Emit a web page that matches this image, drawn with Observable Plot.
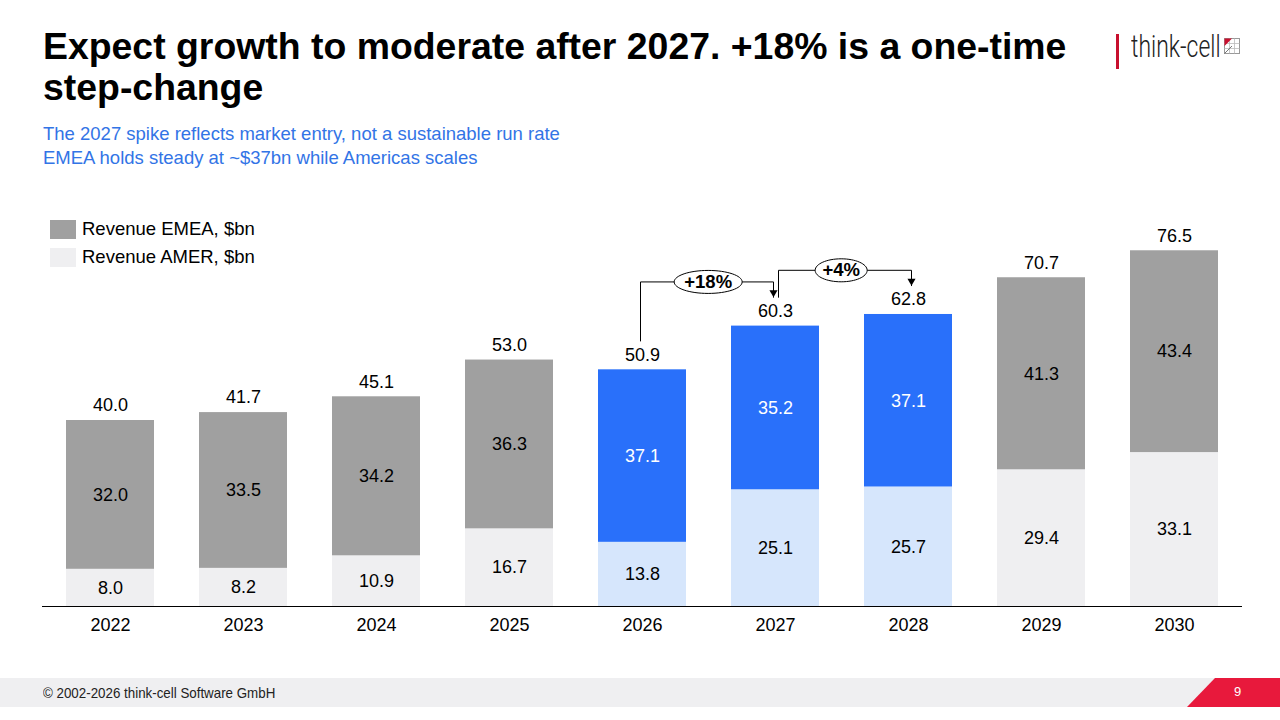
<!DOCTYPE html>
<html>
<head>
<meta charset="utf-8">
<script src="https://cdn.jsdelivr.net/npm/d3@7"></script>
<script src="https://cdn.jsdelivr.net/npm/@observablehq/plot@0.6"></script>
<style>
  html, body { margin: 0; padding: 0; background: #fff; }
  body { width: 1280px; height: 720px; overflow: hidden; font-family: "Liberation Sans", Arial, sans-serif; }
  #page { position: relative; width: 1280px; height: 720px; }
  #title { position: absolute; left: 43px; top: 26px; width: 1080px; font-size: 37.4px; line-height: 41px; font-weight: bold; color: #000; }
  #subtitle { position: absolute; left: 43px; top: 122px; font-size: 18.5px; line-height: 24px; color: #3274e6; }
  #legend { position: absolute; left: 50px; top: 215px; font-size: 18.5px; color: #000; }
  .lg { display: flex; align-items: center; height: 28px; }
  .sw { width: 26px; height: 19px; margin-right: 6px; }
  #chart { position: absolute; left: 0; top: 190px; }
  #logo { position: absolute; left: 1116px; top: 33px; height: 36px; }
  #logobar { position: absolute; left: 0; top: 1px; width: 3px; height: 35px; background: #c8102e; }
  #logotext { position: absolute; left: 15px; top: -5px; font-family: Roboto, sans-serif; font-weight: 300; font-size: 31px; color: #222; transform: scaleX(0.74); transform-origin: left top; white-space: nowrap; }
  #logoicon { position: absolute; left: 108px; top: 5px; }
  #footer { position: absolute; left: 0; top: 678px; width: 1280px; height: 29px; background: #efeff1; }
  #foottext { position: absolute; left: 43px; top: 7px; font-size: 14.5px; color: #222; transform: scaleX(0.92); transform-origin: left top; white-space: nowrap; }
  #footred { position: absolute; left: 0; top: 0; }
  #pagenum { position: absolute; left: 1234px; top: 6px; font-size: 13px; color: #fff; }
</style>
</head>
<body>
<div id="page">
  <div id="title">Expect growth to moderate after 2027. +18% is a one-time step-change</div>
  <div id="subtitle">The 2027 spike reflects market entry, not a sustainable run rate<br>EMEA holds steady at ~$37bn while Americas scales</div>
  <div id="logo">
    <div id="logobar"></div>
    <div id="logotext">think-cell</div>
    <svg id="logoicon" width="18" height="18" viewBox="0 0 18 18">
      <rect x="0.5" y="0.5" width="15" height="15" fill="#fff" stroke="#999" stroke-width="1"/>
      <path d="M5.5 0.5V15.5M10.5 0.5V15.5M0.5 5.5H15.5M0.5 10.5H15.5" stroke="#bbb" stroke-width="0.8"/>
      <path d="M0.5 0.5H8L0.5 8Z" fill="#c8102e"/>
      <path d="M0.5 15.5L8 8" stroke="#777" stroke-width="1"/>
    </svg>
  </div>
  <div id="legend"></div>
  <div id="chart"></div>
  <div id="footer">
    <svg id="footred" width="1280" height="29"><polygon points="1187,29 1215,0 1280,0 1280,29" fill="#e8193c"/></svg>
    <div id="foottext">© 2002-2026 think-cell Software GmbH</div>
    <div id="pagenum">9</div>
  </div>
</div>
<script>
// ---- Data ----
const years = ["2022", "2023", "2024", "2025", "2026", "2027", "2028", "2029", "2030"];
const amer = [8.0, 8.2, 10.9, 16.7, 13.8, 25.1, 25.7, 29.4, 33.1];
const emea = [32.0, 33.5, 34.2, 36.3, 37.1, 35.2, 37.1, 41.3, 43.4];
const totals = [40.0, 41.7, 45.1, 53.0, 50.9, 60.3, 62.8, 70.7, 76.5];
const highlightYears = ["2026", "2027", "2028"];
const seriesNames = ["Revenue EMEA, $bn", "Revenue AMER, $bn"];
const growthSteps = [
  {from: "2026", to: "2027", label: "+18%"},
  {from: "2027", to: "2028", label: "+4%"}
];

// ---- Styles ----
const baseColors = {EMEA: "#a0a0a0", AMER: "#efeff1"};
const hiColors = {EMEA: "#2970fa", AMER: "#d6e6fc"};

// Legend
const legend = document.getElementById("legend");
[["EMEA", seriesNames[0]], ["AMER", seriesNames[1]]].forEach(([k, name]) => {
  const row = document.createElement("div");
  row.className = "lg";
  row.innerHTML = `<div class="sw" style="background:${baseColors[k]}"></div><div>${name}</div>`;
  legend.appendChild(row);
});

// Table
const rows = years.map((year, i) => ({year, amer: amer[i], emea: emea[i], total: totals[i]}));
const totalOf = Object.fromEntries(rows.map(r => [r.year, r.total]));
const segments = rows.flatMap(r => {
  const hi = highlightYears.includes(r.year);
  return [
    {year: r.year, series: "AMER", y1: 0, y2: r.amer, value: r.amer, fill: (hi ? hiColors : baseColors).AMER, text: "#000"},
    {year: r.year, series: "EMEA", y1: r.amer, y2: r.total, value: r.emea, fill: (hi ? hiColors : baseColors).EMEA, text: hi ? "#fff" : "#000"}
  ];
});

const endGap = 6.2;     // gap above total label for connector ends
const levelGap = 9.5;   // connector bracket height above the higher total

function ellipseSymbol(rx, ry) {
  const k = 0.5523;
  return {
    draw(ctx) {
      ctx.moveTo(rx, 0);
      ctx.bezierCurveTo(rx, ry * k, rx * k, ry, 0, ry);
      ctx.bezierCurveTo(-rx * k, ry, -rx, ry * k, -rx, 0);
      ctx.bezierCurveTo(-rx, -ry * k, -rx * k, -ry, 0, -ry);
      ctx.bezierCurveTo(rx * k, -ry, rx, -ry * k, rx, 0);
      ctx.closePath();
    }
  };
}

const width = 1280, height = 460, mL = 42, mR = 38;
const step = (width - mL - mR) / years.length;

const annotationMarks = growthSteps.flatMap((g, i) => {
  const level = Math.max(totalOf[g.from], totalOf[g.to]) + levelGap;
  const pts = [
    {x: g.from, y: totalOf[g.from] + endGap},
    {x: g.from, y: level},
    {x: g.to, y: level},
    {x: g.to, y: totalOf[g.to] + endGap}
  ];
  const shift = i === 0 ? -2 : 3;
  const rx = g.label.length > 3 ? 34 : 26;
  return [
    Plot.line(pts, {x: "x", y: "y", stroke: "#000", strokeWidth: 1, dx: shift, curve: "linear"}),
    Plot.dot([pts[3]], {x: "x", y: "y", symbol: "triangle", r: 3, fill: "#000", stroke: null, rotate: 180, dx: shift, dy: -4.6}),
    Plot.dot([{x: g.from, y: level}], {x: "x", y: "y", symbol: ellipseSymbol(rx, 11.5), fill: "#fff", stroke: "#000", strokeWidth: 1, dx: step / 2 - 1}),
    Plot.text([{x: g.from, y: level, label: g.label}], {x: "x", y: "y", text: "label", dx: step / 2 - 1, fontSize: 18.5, fontWeight: "bold", fill: "#000"})
  ];
});

const chart = Plot.plot({
  width, height,
  marginTop: 44, marginBottom: 44, marginLeft: mL, marginRight: mR,
  style: {fontFamily: "'Liberation Sans', Arial, sans-serif", background: "transparent", overflow: "visible"},
  x: {domain: years, paddingInner: 0.34, paddingOuter: 0.17, label: null},
  y: {domain: [0, 80], axis: null},
  color: {type: "identity"},
  marks: [
    Plot.barY(segments, {x: "year", y1: "y1", y2: "y2", fill: "fill", inset: 0}),
    Plot.text(segments, {x: "year", y: d => (d.y1 + d.y2) / 2, text: d => d.value.toFixed(1), fill: "text", fontSize: 18}),
    Plot.text(rows, {x: "year", y: "total", text: d => d.total.toFixed(1), dy: -15, fontSize: 18, fill: "#000"}),
    Plot.ruleY([0], {stroke: "#000", strokeWidth: 1}),
    Plot.axisX({tickSize: 0, tickPadding: 12, fontSize: 18, label: null, color: "#000"}),
    ...annotationMarks
  ]
});
document.getElementById("chart").appendChild(chart);
</script>
</body>
</html>
